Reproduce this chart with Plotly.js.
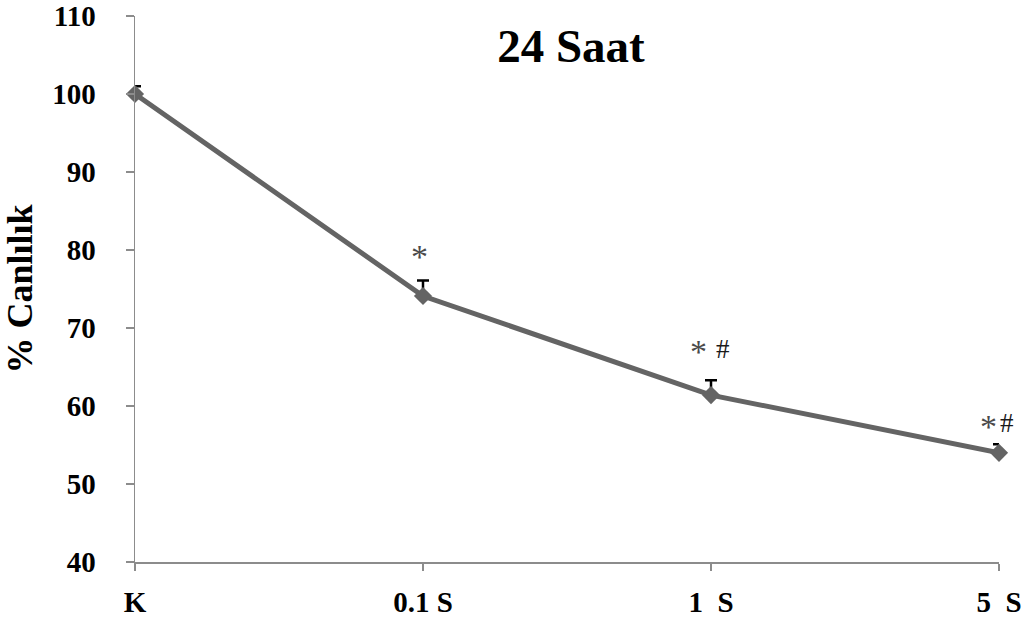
<!DOCTYPE html>
<html>
<head>
<meta charset="utf-8">
<script src="https://cdn.plot.ly/plotly-3.0.1.min.js"></script>
<style>html,body{margin:0;padding:0;background:#fff;}#chart{width:1031px;height:622px;}</style>
</head>
<body>
<div id="chart"></div>
<script>
var categories = ['K', '0.1 S', '1\u00a0\u00a0S', '5\u00a0\u00a0S'];
var viability = [100, 74.1, 61.4, 54.0];
var errorPlus = [1.0, 2.0, 1.9, 1.1];
var starLabels = ['', '*', '*', '*'];
var hashLabels = ['', '', '#', '#'];
var markY = [0, 80.0, 67.7, 58.2];

var FONT = '"Liberation Serif", "Times New Roman", serif';

var trace = {
  x: categories,
  y: viability,
  type: 'scatter',
  mode: 'lines+markers',
  line: {color: '#646464', width: 5},
  marker: {symbol: 'diamond', size: 14, color: '#646464'},
  error_y: {type: 'data', symmetric: false, array: errorPlus, arrayminus: errorPlus.map(function(){return 0;}), color: '#000000', thickness: 2.5, width: 6},
  cliponaxis: false,
  hoverinfo: 'none'
};

var annotations = [];
for (var i = 0; i < categories.length; i++) {
  var twoMarks = starLabels[i] && hashLabels[i];
  if (starLabels[i]) {
    annotations.push({
      x: categories[i], y: markY[i], xref: 'x', yref: 'y',
      text: starLabels[i], showarrow: false,
      xshift: twoMarks ? (i === 3 ? -11 : -13) : -4, yshift: -6,
      font: {family: FONT, size: 34, color: '#4a4a4a'}
    });
  }
  if (hashLabels[i]) {
    annotations.push({
      x: categories[i], y: markY[i], xref: 'x', yref: 'y',
      text: hashLabels[i], showarrow: false,
      xshift: i === 3 ? 8 : 12, yshift: -3,
      font: {family: FONT, size: 27, color: '#1a1a1a'}
    });
  }
}

var layout = {
  width: 1031, height: 622,
  margin: {l: 135, r: 32, t: 16, b: 60, pad: 0},
  paper_bgcolor: '#ffffff', plot_bgcolor: '#ffffff',
  showlegend: false,
  title: {
    text: '<b>24 Saat</b>',
    font: {family: FONT, size: 47, color: '#000000'},
    x: 0.5046, xref: 'paper', xanchor: 'center',
    y: 0.926, yref: 'container', yanchor: 'middle'
  },
  xaxis: {
    type: 'category', range: [0, 3],
    showgrid: false, zeroline: false,
    showline: true, linecolor: '#8c8c8c', linewidth: 1.5,
    ticks: 'outside', ticklen: 7, tickwidth: 1.5, tickcolor: '#8c8c8c',
    tickfont: {family: FONT, size: 29, color: '#000000'},
    ticklabelstandoff: 7,
    tickprefix: '<b>', ticksuffix: '</b>'
  },
  yaxis: {
    range: [40, 110], dtick: 10, tick0: 40,
    showgrid: false, zeroline: false,
    showline: true, linecolor: '#8c8c8c', linewidth: 1.5,
    ticks: 'outside', ticklen: 8, tickwidth: 1.5, tickcolor: '#8c8c8c',
    tickfont: {family: FONT, size: 29, color: '#000000'},
    ticklabelstandoff: 24,
    tickprefix: '<b>', ticksuffix: '</b>',
    title: {text: '<b>% Canlılık</b>', font: {family: FONT, size: 36, color: '#000000'}, standoff: 12}
  },
  annotations: annotations
};

Plotly.newPlot('chart', [trace], layout, {displayModeBar: false, staticPlot: true});
</script>
</body>
</html>
